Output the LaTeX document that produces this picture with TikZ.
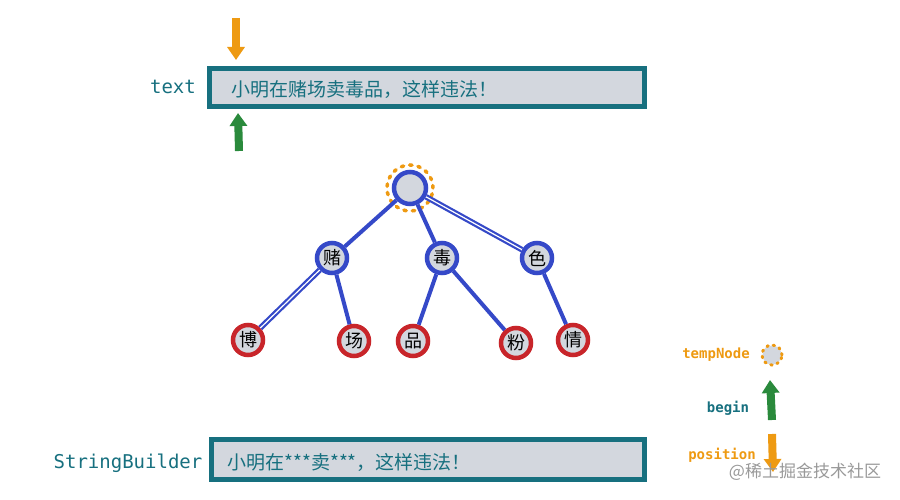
\documentclass[tikz,border=0pt]{standalone}
\usepackage{fontspec}
\setmonofont{DejaVu Sans Mono}
\newfontfamily\cjk{Noto Sans CJK SC}
\usetikzlibrary{arrows.meta}
\definecolor{teal}{HTML}{17707F}
\definecolor{boxfill}{HTML}{D3D7DE}
\definecolor{orng}{HTML}{EE9A12}
\definecolor{grn}{HTML}{2A8A3C}
\definecolor{blu}{HTML}{3549C8}
\definecolor{rd}{HTML}{C8252A}
\definecolor{nodefill}{HTML}{D3D7DE}
\tikzset{
  strbox/.style={draw=teal, fill=boxfill, line width=5pt, minimum height=38pt, inner sep=0pt},
  boxtext/.style={text=teal, font=\cjk\fontsize{19}{21}\selectfont, anchor=west},
  lbl/.style={text=teal, font=\ttfamily\fontsize{19}{21}\selectfont},
  olbl/.style={text=orng, font=\ttfamily\bfseries\fontsize{14}{16}\selectfont},
  tlbl/.style={text=teal, font=\ttfamily\bfseries\fontsize{14}{16}\selectfont},
  bignode/.style={circle, draw=blu, line width=4.5pt, fill=nodefill, minimum size=30pt, inner sep=0pt, font=\cjk\fontsize{18}{20}\selectfont},
  leaf/.style={circle, draw=rd, line width=4.5pt, fill=nodefill, minimum size=30pt, inner sep=0pt, font=\cjk\fontsize{18}{20}\selectfont},
  edge/.style={draw=blu, line width=4pt},
  blockarrow/.style={line width=8pt, -{Triangle[width=17pt,length=13pt]}},
}
\begin{document}
\begin{tikzpicture}[x=1pt,y=-1pt]
\useasboundingbox (0,0) rectangle (900,500);
% top string box
\node[strbox, minimum width=435pt] (textbox) at (427,88) {};
\node[boxtext] (texttxt) at (228,89) {小明在赌场卖毒品，这样违法！};
\node[lbl] (textlbl) at (173,87) {text};
% top arrows
\coordinate (oa1) at (236,18);
\coordinate (oa2) at (236,60);
\draw[blockarrow, orng] (oa1) -- (oa2);
\coordinate (ga1) at (239,151);
\coordinate (ga2) at (238,113);
\draw[blockarrow, grn] (ga1) -- (ga2);
% tree
\node[bignode, minimum size=32pt] (root) at (410,188) {};
\draw[orng, line width=3.5pt, dash pattern=on 2.5pt off 6pt, line cap=round] (root) circle (23pt);
\node[bignode] (du) at (332,258) {赌};
\node[bignode] (dd) at (442,258) {毒};
\node[bignode] (se) at (537,258) {色};
\node[leaf] (bo) at (248,340) {博};
\node[leaf] (ch) at (354,341) {场};
\node[leaf] (pi) at (413,341) {品};
\node[leaf] (fe) at (516,343) {粉};
\node[leaf] (qi) at (573,340) {情};
\draw[edge] (root) -- (du);
\draw[edge] (root) -- (dd);
\draw[edge, double=white, double distance=1.2pt, line width=2.2pt] (root) -- (se);
\draw[edge, double=white, double distance=1.2pt, line width=2.2pt] (du) -- (bo);
\draw[edge] (du) -- (ch);
\draw[edge] (dd) -- (pi);
\draw[edge] (dd) -- (fe);
\draw[edge] (se) -- (qi);
% legend
\node[olbl] (templbl) at (716,355) {tempNode};
\node[circle, fill=nodefill, minimum size=19pt, inner sep=0pt] (tempnode) at (772,355) {};
\draw[orng, line width=3pt, dash pattern=on 1.5pt off 5pt, line cap=round] (tempnode) circle (10pt);
\node[tlbl] (beginlbl) at (728,408) {begin};
\coordinate (lg1) at (772,420);
\coordinate (lg2) at (770,380);
\draw[blockarrow, grn] (lg1) -- (lg2);
\node[olbl] (poslbl) at (722,455) {position};
\coordinate (lo1) at (772,434);
\coordinate (lo2) at (773,472);
\draw[blockarrow, orng] (lo1) -- (lo2);
\node[text=black!40, font=\cjk\fontsize{17}{19}\selectfont] (wm) at (805,472) {@稀土掘金技术社区};
% bottom string box
\node[strbox, minimum width=433pt, minimum height=40pt] (sbbox) at (428,459) {};
\node[boxtext] (sbtxt) at (224,462) {小明在***卖***，这样违法！};
\node[lbl] (sblbl) at (128,463) {StringBuilder};
\end{tikzpicture}
\end{document}
